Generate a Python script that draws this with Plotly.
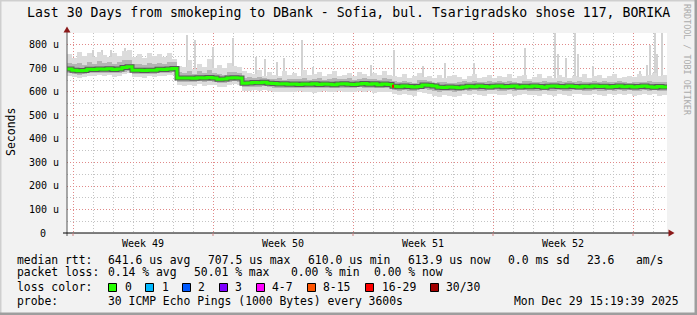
import plotly.graph_objects as go

# ---------------- data ----------------
days_per_sample = 0.25          # one smoke/median sample every 6 hours
total_days = 30

median_us = [
    698, 692, 690, 691, 697, 696, 698, 697, 699, 696,
    698, 704, 707, 693, 692, 691, 693, 692, 697, 696,
    698, 700, 660, 659, 660, 658, 661, 659, 662, 660,
    654, 655, 660, 661, 659, 637, 638, 640, 639, 641,
    637, 636, 634, 635, 633, 634, 632, 634, 633, 635,
    632, 634, 633, 631, 634, 635, 633, 632, 634, 636,
    633, 635, 631, 634, 632, 624, 622, 625, 623, 621,
    623, 630, 629, 626, 620, 619, 621, 620, 618, 621,
    624, 622, 625, 623, 621, 624, 626, 622, 623, 625,
    621, 624, 622, 625, 623, 620, 624, 626, 623, 622,
    625, 623, 621, 624, 622, 625, 623, 624, 621, 623,
    625, 622, 624, 621, 623, 625, 622, 620, 623, 621,
]

smoke_hi_us = [
    760, 745, 770, 752, 765, 748, 772, 758, 750, 766,
    755, 774, 780, 751, 762, 746, 768, 754, 760, 749,
    765, 742,
    712, 705, 735, 698, 720, 708, 740, 702, 715, 700, 725, 710, 705,
    690, 682, 676, 695, 670, 685, 672, 668, 688, 674,
    680, 666, 692, 671, 678, 684, 669, 676, 690, 667,
    673, 682, 670, 686, 675, 668, 680, 672, 688, 671,
    670, 662, 675, 658, 668, 682, 665, 670, 660, 672,
    658, 666, 674, 662, 655, 668, 676, 660, 664, 672,
    658, 669, 662, 675, 660, 667, 671, 657, 664, 678,
    661, 668, 659, 672, 665, 660, 670, 663, 676, 658,
    666, 672, 661, 668, 675, 659, 664, 670, 662, 678,
    666, 672, 680, 668, 674,
]

smoke_mid_hi_us = [
    725, 718, 722, 716, 728, 720, 730, 724, 726, 718,
    727, 735, 738, 720, 719, 716, 722, 718, 725, 721,
    728, 726,
    685, 680, 690, 678, 688, 682, 692, 680, 676, 674, 686, 684, 680,
    660, 662, 658, 664, 660, 656, 655, 658, 652, 656,
    654, 657, 660, 653, 656, 658, 652, 655, 660, 654,
    657, 659, 652, 656, 658, 654, 657, 653, 659, 655,
    645, 642, 646, 644, 640, 652, 650, 647, 640, 641,
    643, 640, 638, 642, 646, 644, 648, 642, 643, 646,
    641, 645, 643, 647, 644, 640, 645, 648, 644, 642,
    646, 644, 641, 645, 643, 646, 644, 645, 641, 643,
    647, 642, 645, 641, 644, 647, 643, 640, 644, 642,
    643, 645, 642, 644, 641,
]

smoke_mid_lo_us = [
    682, 676, 674, 675, 680, 679, 681, 680, 682, 679,
    681, 686, 690, 677, 676, 675, 677, 676, 681, 680,
    682, 684,
    644, 642, 644, 641, 645, 642, 646, 644, 638, 639, 644, 645, 642,
    620, 621, 623, 622, 624, 620, 618, 619, 617, 618,
    616, 618, 617, 619, 616, 617, 618, 615, 618, 619,
    617, 616, 618, 620, 617, 619, 615, 618, 616, 617,
    607, 605, 608, 606, 604, 612, 611, 609, 603, 602,
    604, 603, 601, 604, 607, 605, 608, 606, 604, 607,
    609, 605, 606, 608, 604, 607, 609, 605, 606, 603,
    607, 605, 604, 608, 606, 603, 607, 609, 606, 605,
    608, 606, 604, 607, 605, 608, 606, 607, 604, 606,
    608, 605, 607, 603, 606,
]

smoke_lo_us = [
    668, 662, 660, 664, 670, 666, 671, 667, 672, 665,
    669, 676, 680, 664, 663, 661, 666, 664, 670, 668,
    672, 674,
    628, 626, 630, 624, 632, 627, 631, 629, 622, 620, 630, 632, 628,
    604, 606, 608, 605, 609, 603, 600, 602, 598, 601,
    599, 603, 600, 602, 597, 601, 603, 598, 600, 604,
    601, 599, 602, 605, 600, 603, 597, 601, 599, 600,
    590, 586, 592, 588, 585, 598, 596, 591, 584, 580,
    586, 583, 579, 585, 590, 587, 592, 588, 585, 590,
    593, 586, 588, 591, 585, 589, 593, 586, 588, 584,
    590, 586, 585, 591, 588, 583, 590, 593, 587, 586,
    591, 588, 584, 590, 586, 592, 588, 590, 585, 588,
    591, 586, 590, 583, 588,
]

spike_day = [1.3, 1.75, 2.23, 2.9, 3.65, 6.02, 6.4, 7.3, 8.3, 9.48, 9.9,
             10.5, 10.85, 11.78, 12.3, 15.23, 16.35, 17.8, 18.9,
             20.35, 22.9, 24.42, 24.55, 24.95, 25.42, 25.55, 26.3,
             28.65, 29.0, 29.15, 29.4, 29.5, 29.75]
spike_top_us = [779, 779, 779, 787, 750, 843, 821, 793, 830, 750, 740,
                729, 743, 821, 708, 715, 779, 712, 725,
                723, 786, 851, 760, 744, 851, 760, 712,
                690, 715, 800, 851, 760, 851]

loss_day = [16.3]
loss_pings = [16]

week_labels = ["Week 49", "Week 50", "Week 51", "Week 52"]
week_start_day = [0.3, 7.3, 14.3, 21.3, 28.3]

y_tick_values = [0, 100, 200, 300, 400, 500, 600, 700, 800]
y_tick_labels = ["0", "100 u", "200 u", "300 u", "400 u", "500 u",
                 "600 u", "700 u", "800 u"]

title_text = "Last 30 Days from smokeping to DBank - Sofia, bul. Tsarigradsko shose 117, BORIKA"
rtt_stats = ["641.6 us avg", "707.5 us max", "610.0 us min", "613.9 us now",
             "0.0 ms sd", "23.6", "am/s"]
loss_stats = ["0.14 % avg", "50.01 % max", "0.00 % min", "0.00 % now"]
loss_color_labels = ["0", "1", "2", "3", "4-7", "8-15", "16-29", "30/30"]
probe_text = "30 ICMP Echo Pings (1000 Bytes) every 3600s"
stamp_text = "Mon Dec 29 15:19:39 2025"

assert len(median_us) == len(smoke_hi_us) == len(smoke_lo_us) == 120
assert len(smoke_mid_hi_us) == len(smoke_mid_lo_us) == 120

# ---------------- styling ----------------
W, H = 697, 315
PL, PR, PT, PB = 67, 667, 33, 233     # plot area in pixels
YMAX = 851
MONO = "DejaVu Sans Mono"
loss_colors = ["#26ff00", "#00b8ff", "#0059ff", "#7e00ff", "#ff00ff",
               "#ff5500", "#ff0000", "#a10000"]


def px(x):
    return (x - PL) / (PR - PL)


def py(y):
    return (PB - y) / (PB - PT)


n = len(median_us)
centers = [(i + 0.5) * days_per_sample for i in range(n)]
starts = [i * days_per_sample for i in range(n)]

fig = go.Figure()

# spikes (light smoke extremes), rising out of the smoke of their sample
spike_base = [smoke_mid_hi_us[min(int(d / days_per_sample), n - 1)] for d in spike_day]
fig.add_trace(go.Bar(x=spike_day, y=[t - b for t, b in zip(spike_top_us, spike_base)],
                     base=spike_base, width=0.08,
                     marker=dict(color="#d2d2d2", line=dict(width=0)), hoverinfo="skip"))
# outer smoke
fig.add_trace(go.Bar(x=centers, y=[h - l for h, l in zip(smoke_hi_us, smoke_lo_us)],
                     base=smoke_lo_us, width=days_per_sample,
                     marker=dict(color="#dcdcdc", line=dict(width=0)), hoverinfo="skip"))
# inner smoke
fig.add_trace(go.Bar(x=centers, y=[h - l for h, l in zip(smoke_mid_hi_us, smoke_mid_lo_us)],
                     base=smoke_mid_lo_us, width=days_per_sample,
                     marker=dict(color="#b4b4b4", line=dict(width=0)), hoverinfo="skip"))
# dark core + median line
step_x = starts + [total_days]
step_y = median_us + [median_us[-1]]
fig.add_trace(go.Scatter(x=step_x, y=step_y, mode="lines", line_shape="hv",
                         line=dict(color="#5a5a5a", width=5), hoverinfo="skip"))
fig.add_trace(go.Scatter(x=step_x, y=step_y, mode="lines", line_shape="hv",
                         line=dict(color=loss_colors[0], width=3), hoverinfo="skip"))
# loss marks
for d, p in zip(loss_day, loss_pings):
    idx = min(int(d / days_per_sample), n - 1)
    col = loss_colors[6] if 16 <= p <= 29 else loss_colors[5]
    fig.add_trace(go.Scatter(x=[d - 0.05, d + 0.05], y=[median_us[idx]] * 2, mode="lines",
                             line=dict(color=col, width=3), hoverinfo="skip"))

shapes = []
# figure border (3D shade)
shapes.append(dict(type="line", xref="paper", yref="paper", x0=px(0.5), x1=px(0.5),
                   y0=py(0), y1=py(H), line=dict(color="#cfcfcf", width=2), layer="above"))
shapes.append(dict(type="line", xref="paper", yref="paper", x0=px(0), x1=px(W),
                   y0=py(0.5), y1=py(0.5), line=dict(color="#cfcfcf", width=2), layer="above"))
shapes.append(dict(type="line", xref="paper", yref="paper", x0=px(W - 1), x1=px(W - 1),
                   y0=py(0), y1=py(H), line=dict(color="#9e9e9e", width=3), layer="above"))
shapes.append(dict(type="line", xref="paper", yref="paper", x0=px(0), x1=px(W),
                   y0=py(H - 1), y1=py(H - 1), line=dict(color="#9e9e9e", width=3), layer="above"))
# axis lines
shapes.append(dict(type="line", xref="paper", yref="paper", x0=0, x1=0, y0=py(236), y1=py(28),
                   line=dict(color="#555555", width=1), layer="above"))
shapes.append(dict(type="line", xref="paper", yref="paper", x0=px(63), x1=px(670), y0=0, y1=0,
                   line=dict(color="#000000", width=1), layer="above"))
# arrow heads
shapes.append(dict(type="path", xref="paper", yref="paper",
                   path=f"M {px(67)},{py(26.5)} L {px(63.5)},{py(32.5)} L {px(70.5)},{py(32.5)} Z",
                   fillcolor="#8b1a1a", line=dict(width=0), layer="above"))
shapes.append(dict(type="path", xref="paper", yref="paper",
                   path=f"M {px(674.5)},{py(233)} L {px(668.5)},{py(229.5)} L {px(668.5)},{py(236.5)} Z",
                   fillcolor="#8b1a1a", line=dict(width=0), layer="above"))
# small red ticks below x axis at week starts
for d in week_start_day:
    xp = PL + d * (PR - PL) / total_days
    shapes.append(dict(type="line", xref="paper", yref="paper", x0=px(xp), x1=px(xp),
                       y0=py(233), y1=py(236), line=dict(color="#d08080", width=1)))
# legend colour boxes
box_left = [108.5, 145.5, 182.5, 219.5, 256.5, 307.5, 365.5, 430.5]
for bx, col in zip(box_left, loss_colors):
    shapes.append(dict(type="rect", xref="paper", yref="paper", x0=px(bx), x1=px(bx + 8),
                       y0=py(291.5), y1=py(283.5), fillcolor=col,
                       line=dict(color="#000000", width=1)))

ann = []


def text(x, y, s, size, anchor="left", color="#000000", angle=0, yanchor="middle"):
    ann.append(dict(x=px(x), y=py(y), xref="paper", yref="paper", text=s, showarrow=False,
                    xanchor=anchor, yanchor=yanchor, textangle=angle, borderpad=0,
                    font=dict(family=MONO, size=size, color=color)))


text(348, 13, title_text, 13.2, anchor="center")
text(11, 132, "Seconds", 11.5, anchor="center", angle=-90)
text(687, 60, "RRDTOOL / TOBI OETIKER", 8.4, anchor="center", color="#ababab", angle=90)
for v, lab in zip(y_tick_values, y_tick_labels):
    yy = PB - v * (PB - PT) / YMAX
    text(59.5 if v else 47, yy, lab, 10, anchor="right")
for i, lab in enumerate(week_labels):
    mid = (week_start_day[i] + week_start_day[i + 1]) / 2
    text(PL + mid * (PR - PL) / total_days, 243, lab, 10, anchor="center")

LEG = 11.4
row1_x = [107, 207, 307, 407, 507, 586, 635]
text(16, 259.5, "median rtt:", LEG)
for x, s in zip(row1_x, rtt_stats):
    text(x, 259.5, s, LEG)
row2_x = [107, 193, 290, 373]
text(16, 272, "packet loss:", LEG)
for x, s in zip(row2_x, loss_stats):
    text(x, 272, s, LEG)
text(16, 287.3, "loss color:", LEG)
label_x = [124, 160.5, 197, 234, 270.7, 322.3, 380.7, 445]
for x, s in zip(label_x, loss_color_labels):
    text(x, 287.3, s, LEG)
text(16, 300.5, "probe:", LEG)
text(107, 300.5, probe_text, LEG)
text(513, 300.5, stamp_text, LEG)

fig.update_layout(
    width=W, height=H,
    margin=dict(l=PL, r=W - PR, t=PT, b=H - PB, pad=0),
    paper_bgcolor="#f2f2f2", plot_bgcolor="#ffffff",
    showlegend=False, barmode="overlay", bargap=0,
    shapes=shapes, annotations=ann,
    xaxis=dict(range=[0, total_days], tickvals=week_start_day, showticklabels=False,
               ticks="", showgrid=True, gridcolor="#e08a8a", griddash="1px,2px", gridwidth=1,
               minor=dict(tick0=0.3, dtick=1, showgrid=True, gridcolor="#c4c4c4",
                          griddash="1px,2px", gridwidth=1),
               zeroline=False, showline=False, fixedrange=True),
    yaxis=dict(range=[0, YMAX], tickvals=y_tick_values, showticklabels=False, ticks="",
               showgrid=True, gridcolor="#e08a8a", griddash="1px,2px", gridwidth=1,
               minor=dict(tick0=0, dtick=50, showgrid=True, gridcolor="#c4c4c4",
                          griddash="1px,2px", gridwidth=1),
               zeroline=False, showline=False, fixedrange=True),
)

fig.write_html("out.html", config={"displayModeBar": False})
